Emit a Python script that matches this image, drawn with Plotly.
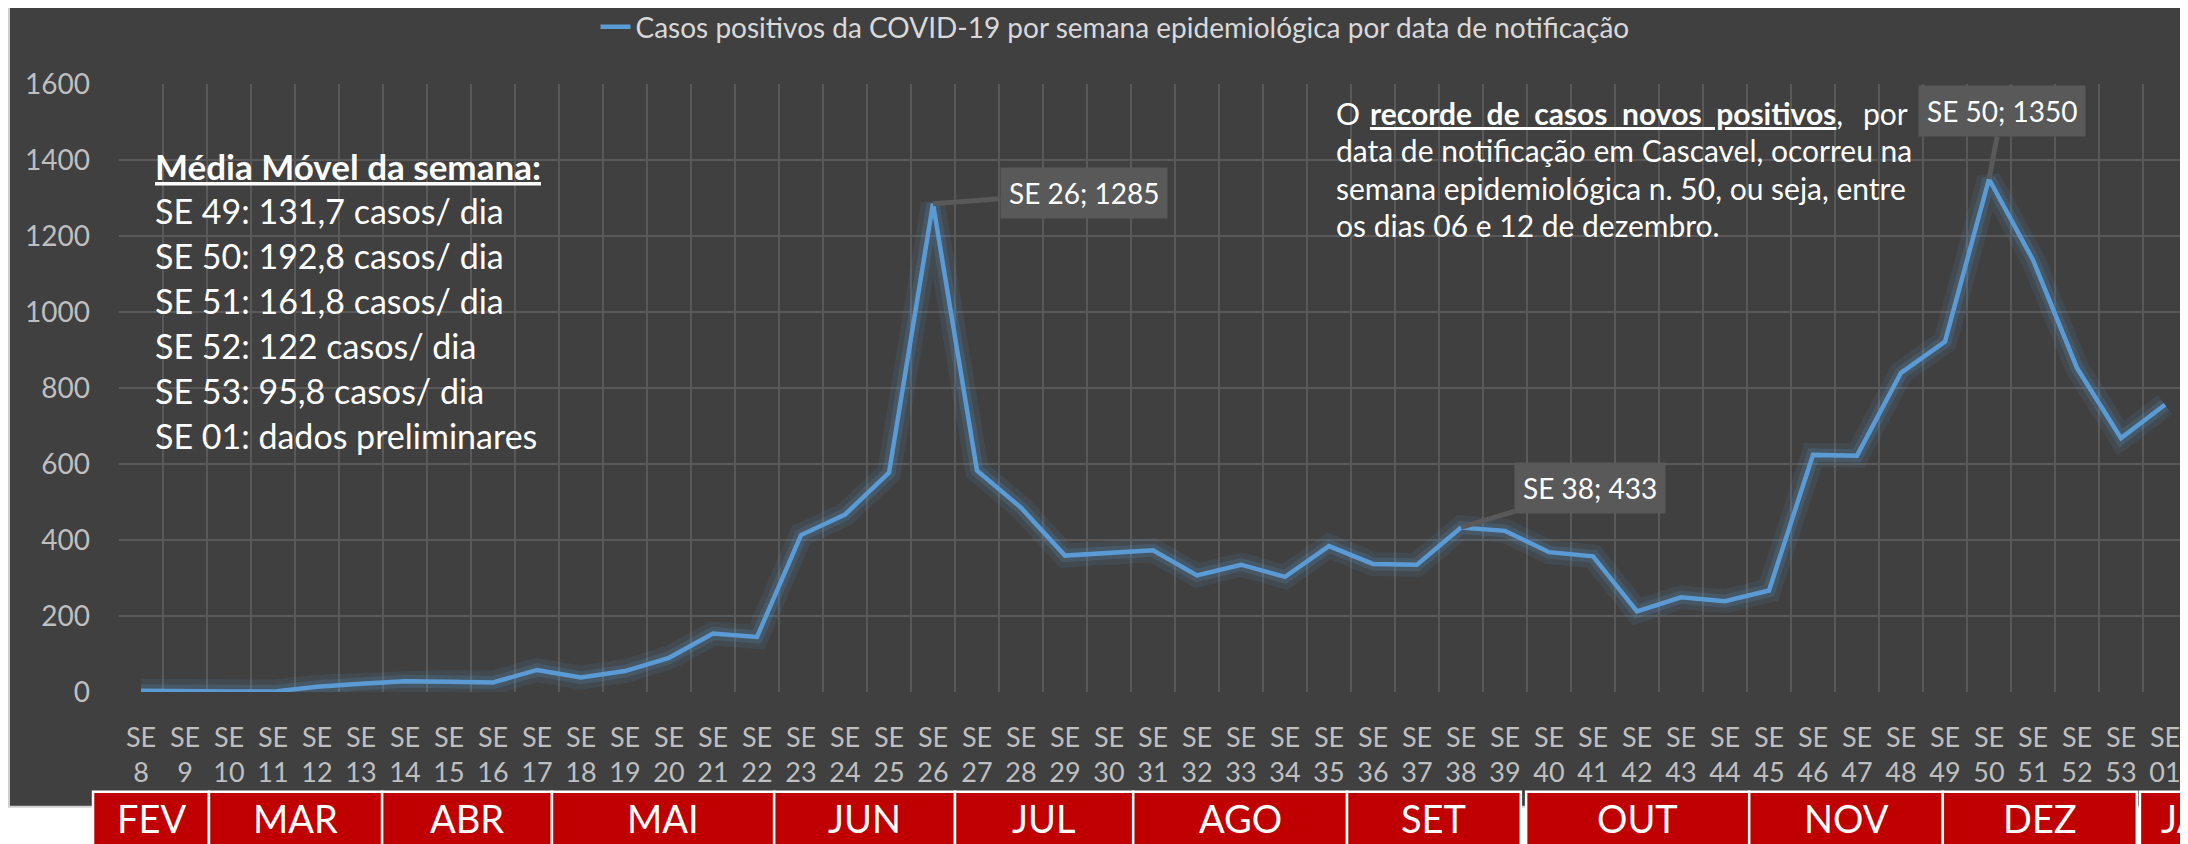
import plotly.graph_objects as go

# ---------------- data ----------------
WEEKS = ["8", "9", "10", "11", "12", "13", "14", "15", "16", "17", "18", "19", "20",
         "21", "22", "23", "24", "25", "26", "27", "28", "29", "30", "31", "32", "33",
         "34", "35", "36", "37", "38", "39", "40", "41", "42", "43", "44", "45", "46",
         "47", "48", "49", "50", "51", "52", "53", "01"]
CASES = [3, 1, 1, 1, 14, 22, 28, 27, 25, 58, 38, 55, 90, 154, 145, 413, 467, 577, 1285,
         583, 485, 359, 366, 373, 307, 335, 303, 384, 337, 335, 433, 424, 368, 357, 212,
         249, 239, 267, 624, 622, 840, 922, 1350, 1137, 853, 668, 756]
SERIES_NAME = "Casos positivos da COVID-19 por semana epidemiológica por data de notificação"

MONTHS = ["FEV", "MAR", "ABR", "MAI", "JUN", "JUL", "AGO", "SET", "OUT", "NOV", "DEZ", "JAN"]
# month band edges, in week-index units (hand-drawn boxes under the axis)
MONTH_START = [-1.09, 1.545, 5.48, 9.34, 14.39, 18.5, 22.55, 27.41, 31.48, 36.55, 40.95, 45.43]
MONTH_END = [1.545, 5.48, 9.34, 14.39, 18.5, 22.55, 27.41, 31.36, 36.55, 40.95, 45.36, 48.0]

CALLOUT_WEEKS = ["26", "38", "50"]

MEDIA_TITLE = "Média Móvel da semana:"
MEDIA_LINES = ["SE 49: 131,7 casos/ dia", "SE 50: 192,8 casos/ dia", "SE 51: 161,8 casos/ dia",
               "SE 52: 122 casos/ dia", "SE 53: 95,8 casos/ dia", "SE 01: dados preliminares"]

NOTE_FIRST = ["O", "recorde de casos novos positivos", "por"]
NOTE_LINES = ["data de notificação em Cascavel, ocorreu na",
              "semana epidemiológica n. 50, ou seja, entre",
              "os dias 06 e 12 de dezembro."]

# ---------------- layout constants ----------------
OFF = 8                      # page body margin of the html page
W, H = 2188 - OFF, 844 - OFF  # figure size so it fits the window
ML, MR = 119 - OFF, 1
MT, MB = 83.5 - OFF, 151.8
FONT = "Lato"
BG = "#404040"
GRID = "#595959"
TICK = "#BFBFBF"
LINE = "#5B9BD5"
NB = "\u00a0"


def px_x(px):
    """screen pixel (reference coords) -> paper x"""
    return (px - OFF - ML) / (W - ML - MR)


def px_y(py):
    return (H - MB - (py - OFF)) / (H - MT - MB)


N = len(WEEKS)
xs = list(range(N))


def idx_x(i):
    return (i + 0.5) / N


fig = go.Figure()

# glow
fig.add_trace(go.Scatter(x=xs, y=CASES, mode="lines", showlegend=False, hoverinfo="skip",
                         line=dict(color="rgba(91,155,213,0.10)", width=24)))
fig.add_trace(go.Scatter(x=xs, y=CASES, mode="lines", showlegend=False, hoverinfo="skip",
                         line=dict(color="rgba(91,155,213,0.18)", width=13)))
fig.add_trace(go.Scatter(x=xs, y=CASES, mode="lines", name=SERIES_NAME,
                         line=dict(color=LINE, width=4.5)))

shapes = []
# dark chart area
shapes.append(dict(type="rect", xref="paper", yref="paper", layer="below",
                   x0=px_x(9), x1=px_x(2200), y0=px_y(807), y1=px_y(-5),
                   fillcolor=BG, line=dict(color="#D0D0D0", width=2)))
# month boxes
annotations = []
for m, s, e in zip(MONTHS, MONTH_START, MONTH_END):
    shapes.append(dict(type="rect", xref="paper", yref="paper", layer="above",
                       x0=idx_x(s), x1=idx_x(e), y0=px_y(870), y1=px_y(792),
                       fillcolor="#C00000", line=dict(color="white", width=2.5)))
    annotations.append(dict(xref="paper", yref="paper", x=idx_x((s + e) / 2), y=px_y(818),
                            text=m, showarrow=False, xanchor="center", yanchor="middle",
                            font=dict(family=FONT, size=38, color="white")))

# média móvel block
annotations.append(dict(xref="paper", yref="paper", x=px_x(153), y=px_y(166),
                        text="<b><u>" + MEDIA_TITLE + "</u></b>", showarrow=False,
                        xanchor="left", yanchor="middle",
                        font=dict(family=FONT, size=35, color="white")))
for k, t in enumerate(MEDIA_LINES):
    annotations.append(dict(xref="paper", yref="paper", x=px_x(153), y=px_y(210 + 45 * k),
                            text=t, showarrow=False, xanchor="left", yanchor="middle",
                            font=dict(family=FONT, size=34, color="white")))

# note paragraph (justified first line emulated)
nf = dict(family=FONT, size=30, color="white")
annotations.append(dict(xref="paper", yref="paper", x=px_x(1334), y=px_y(113), text=NOTE_FIRST[0],
                        showarrow=False, xanchor="left", yanchor="middle", font=nf))
annotations.append(dict(xref="paper", yref="paper", x=px_x(1368), y=px_y(113),
                        text="<b><u>" + NOTE_FIRST[1].replace(" ", NB * 2) + "</u></b>,",
                        showarrow=False, xanchor="left", yanchor="middle", font=nf))
annotations.append(dict(xref="paper", yref="paper", x=px_x(1910), y=px_y(113), text=NOTE_FIRST[2],
                        showarrow=False, xanchor="right", yanchor="middle", font=nf))
for k, t in enumerate(NOTE_LINES):
    annotations.append(dict(xref="paper", yref="paper", x=px_x(1334), y=px_y(150 + 37.5 * k),
                            text=t, showarrow=False, xanchor="left", yanchor="middle", font=nf))

# data callouts
CALLOUT_OFFSETS = {"26": (151, -11), "38": (129, -39), "50": (13, -68)}
for w in CALLOUT_WEEKS:
    i = WEEKS.index(w)
    ax, ay = CALLOUT_OFFSETS[w]
    annotations.append(dict(x=i, y=CASES[i], xref="x", yref="y",
                            text=f"SE {w}; {CASES[i]}", showarrow=True, arrowhead=0,
                            arrowwidth=5, arrowcolor="#595959", standoff=0, startstandoff=0,
                            ax=ax, ay=ay, bgcolor="#595959", borderpad=8,
                            font=dict(family=FONT, size=28, color="white")))

fig.update_layout(
    width=W, height=H,
    margin=dict(l=ML, r=MR, t=MT, b=MB, pad=0, autoexpand=False),
    paper_bgcolor="white", plot_bgcolor=BG,
    font=dict(family=FONT, color=TICK),
    showlegend=True,
    legend=dict(orientation="h", xref="container", yref="container",
                x=(1115 - OFF) / W, xanchor="center", y=1 - (27 - OFF) / H, yanchor="middle",
                font=dict(family=FONT, size=28, color="#D9D9D9"), bgcolor="rgba(0,0,0,0)"),
    shapes=shapes, annotations=annotations,
)
fig.update_xaxes(range=[-0.5, N - 0.5], tickmode="array", tickvals=xs, automargin=False,
                 ticktext=["SE<br>" + w for w in WEEKS], showgrid=False, zeroline=False,
                 showline=False, ticks="", ticklabelstandoff=27,
                 tickfont=dict(family=FONT, size=27, color=TICK),
                 minor=dict(tick0=0.5, dtick=1, showgrid=True, gridcolor=GRID, gridwidth=1.5,
                            ticks=""))
fig.update_yaxes(range=[0, 1600], dtick=200, showgrid=True, gridcolor=GRID, gridwidth=1.5,
                 zeroline=False, showline=False, ticks="", ticklabelstandoff=28, automargin=False,
                 tickfont=dict(family=FONT, size=28, color=TICK))

fig.write_html("out.html")
